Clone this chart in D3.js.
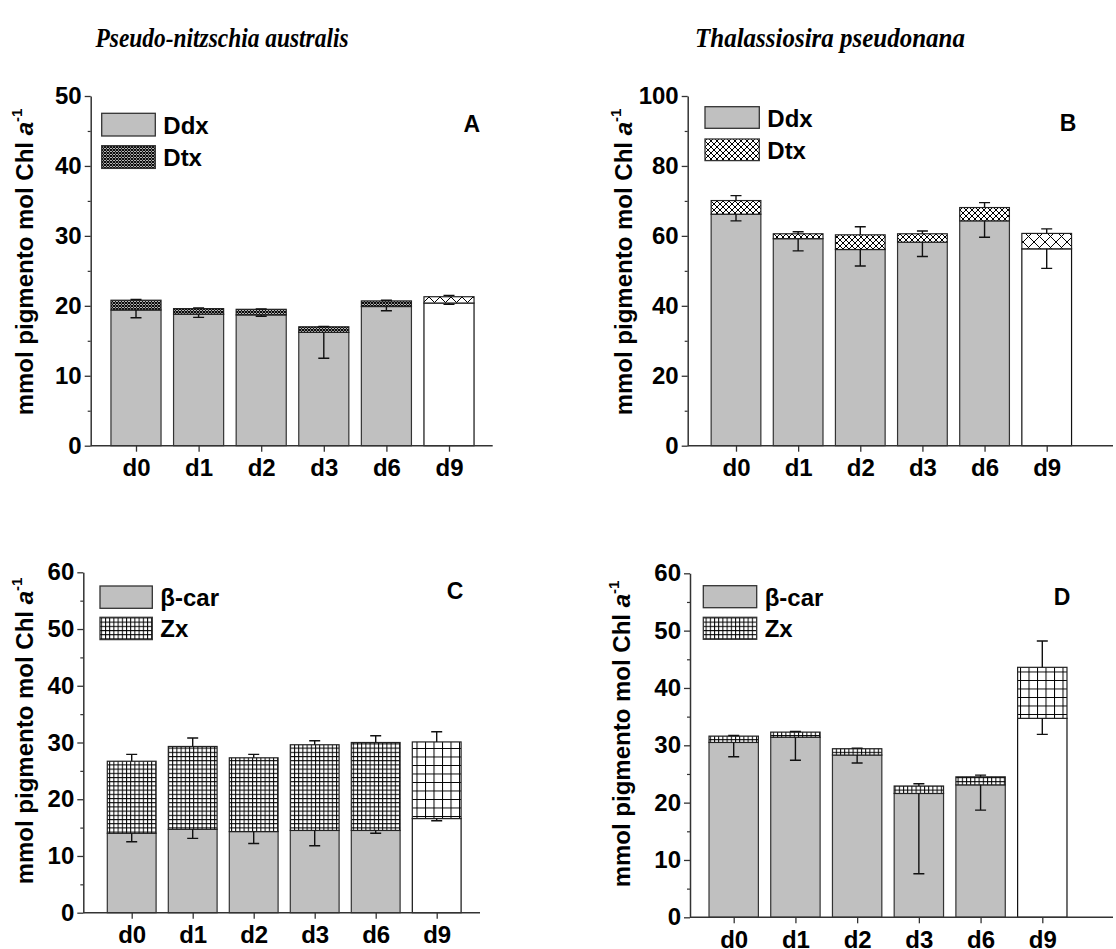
<!DOCTYPE html>
<html>
<head>
<meta charset="utf-8">
<script src="https://cdn.jsdelivr.net/npm/d3@7"></script>
<style>
  body { margin: 0; background: #fff; }
  svg { display: block; }
  .tick text { font-family: "Liberation Sans", Arial, sans-serif; font-weight: bold; font-size: 24px; fill: #000; }
</style>
</head>
<body>
<svg id="chart" width="1116" height="949"></svg>
<script>
const days = ["d0", "d1", "d2", "d3", "d6", "d9"];

// Pseudo-nitzschia australis
const ddxA = [19.4, 18.8, 18.7, 16.2, 19.9, 20.4];
const dtxA = [1.4, 0.8, 0.8, 0.8, 0.8, 0.9];
const errLowA = [1.1, 0.45, 0.2, 3.7, 0.6, 0.2];
const errHighA = [0.1, 0.1, 0.05, 0.05, 0.1, 0.2];

// Thalassiosira pseudonana
const ddxB = [66.2, 59.2, 56.1, 58.2, 64.3, 56.3];
const dtxB = [3.9, 1.4, 4.2, 2.4, 3.8, 4.4];
const errLowB = [1.9, 3.5, 4.7, 4.1, 4.7, 5.6];
const errHighB = [1.4, 0.6, 2.3, 0.8, 1.4, 1.3];

const bcarC = [14.0, 14.7, 14.3, 14.5, 14.5, 16.6];
const zxC = [12.7, 14.6, 13.0, 15.1, 15.5, 13.5];
const errLowC = [1.5, 1.6, 2.1, 2.7, 0.5, 0.4];
const errHighC = [1.2, 1.5, 0.6, 0.7, 1.2, 1.8];

const bcarD = [30.5, 31.4, 28.3, 21.6, 23.1, 34.7];
const zxD = [1.1, 0.9, 1.1, 1.3, 1.4, 8.9];
const errLowD = [2.5, 4.0, 1.4, 14.0, 4.4, 2.8];
const errHighD = [0.1, 0.1, 0.1, 0.4, 0.3, 4.6];

const yMaxes = [50, 100, 60, 60];
const yStepMajor = [10, 20, 10, 10];
const panelLetters = ["A", "B", "C", "D"];
const legendLabels = [["Ddx", "Dtx"], ["Ddx", "Dtx"], ["\u03b2-car", "Zx"], ["\u03b2-car", "Zx"]];
const titles = ["Pseudo-nitzschia australis", "Thalassiosira pseudonana"];

const svg = d3.select("#chart");
const defs = svg.append("defs");
const sans = '"Liberation Sans", Arial, sans-serif';

// hatch patterns
function crossHatch(id, size, sw) {
  const p = defs.append("pattern").attr("id", id)
    .attr("patternUnits", "userSpaceOnUse")
    .attr("width", size).attr("height", size);
  p.append("rect").attr("width", size).attr("height", size).attr("fill", "#fff");
  p.append("path")
    .attr("d", `M0,0L${size},${size}M${size},0L0,${size}`)
    .attr("stroke", "#000").attr("stroke-width", sw);
}
function grid(id, size, sw) {
  const p = defs.append("pattern").attr("id", id)
    .attr("patternUnits", "userSpaceOnUse")
    .attr("width", size).attr("height", size);
  p.append("rect").attr("width", size).attr("height", size).attr("fill", "#fff");
  p.append("path")
    .attr("d", `M0,0.5H${size}M0.5,0V${size}`)
    .attr("stroke", "#000").attr("stroke-width", sw);
}
crossHatch("xfine", 3, 1.1);
crossHatch("xmed", 6, 1);
crossHatch("xcoarse", 11, 1);
grid("gfine", 4.2, 1);
grid("gcoarse", 8.5, 1);

// layout of each panel
const layout = [
  { left: 90.7, right: 492.7, top: 96, bottom: 445.7, c0: 136, c5: 449,
    topFill: "url(#xfine)", lastFill: "url(#xcoarse)", titleX: 33, titleY: 262,
    leg: { x: 101.7, y: 113.3, w: 53.6, h: 22.7, gap: 32.4 }, letter: [471.7, 132] },
  { left: 687.7, right: 1113, top: 96, bottom: 445.7, c0: 736, c5: 1046.7,
    topFill: "url(#xmed)", lastFill: "url(#xcoarse)", titleX: 631.7, titleY: 262,
    leg: { x: 705, y: 106.7, w: 54.3, h: 21.6, gap: 32.3 }, letter: [1068, 131] },
  { left: 83.3, right: 480, top: 572.3, bottom: 912.7, c0: 131.7, c5: 436.7,
    topFill: "url(#gfine)", lastFill: "url(#gcoarse)", titleX: 33, titleY: 731,
    leg: { x: 100, y: 586, w: 52.3, h: 22.3, gap: 31.3 }, letter: [455, 599] },
  { left: 690, right: 1113, top: 573.3, bottom: 917.3, c0: 733.7, c5: 1042.3,
    topFill: "url(#gfine)", lastFill: "url(#gcoarse)", titleX: 630, titleY: 734,
    leg: { x: 703.3, y: 585.7, w: 53.4, h: 22, gap: 31.6 }, letter: [1062, 605] }
];

const series = [
  [ddxA, dtxA, errLowA, errHighA],
  [ddxB, dtxB, errLowB, errHighB],
  [bcarC, zxC, errLowC, errHighC],
  [bcarD, zxD, errLowD, errHighD]
];

series.forEach(([base, top, eLow, eHigh], i) => {
  const L = layout[i];
  const g = svg.append("g");

  const x = d3.scalePoint().domain(days).range([L.c0, L.c5]);
  const y = d3.scaleLinear().domain([0, yMaxes[i]]).range([L.bottom, L.top]);
  const bw = x.step() * 0.8;

  const rows = days.map((d, k) => ({
    day: d, base: base[k], top: top[k], low: eLow[k], high: eHigh[k], last: k === days.length - 1
  }));

  // bottom segment
  g.selectAll("rect.base").data(rows).enter().append("rect")
    .attr("class", "base")
    .attr("x", d => x(d.day) - bw / 2)
    .attr("width", bw)
    .attr("y", d => y(d.base))
    .attr("height", d => y(0) - y(d.base))
    .attr("fill", d => d.last ? "#fff" : "#c0c0c0")
    .attr("stroke", d => d.last ? "#111" : "#333")
    .attr("stroke-width", 1.2);

  // stacked segment
  g.selectAll("rect.top").data(rows).enter().append("rect")
    .attr("class", "top")
    .attr("x", d => x(d.day) - bw / 2)
    .attr("width", bw)
    .attr("y", d => y(d.base + d.top))
    .attr("height", d => y(d.base) - y(d.base + d.top))
    .attr("fill", d => d.last ? L.lastFill : L.topFill)
    .attr("stroke", "#222")
    .attr("stroke-width", 1.2);

  // error bars: bottom series downward, stacked series upward
  const eb = g.selectAll("g.err").data(rows).enter().append("g").attr("class", "err")
    .attr("stroke", "#111").attr("stroke-width", 1.4);
  eb.append("path")
    .attr("d", d => {
      const cx = x(d.day), y0 = y(d.base), y1 = y(d.base - d.low);
      return `M${cx},${y0}V${y1}M${cx - 5.5},${y1}H${cx + 5.5}`;
    });
  eb.append("path")
    .attr("d", d => {
      const cx = x(d.day), y0 = y(d.base + d.top), y1 = y(d.base + d.top + d.high);
      return `M${cx},${y0}V${y1}M${cx - 5.5},${y1}H${cx + 5.5}`;
    });

  // axes
  const major = d3.range(0, yMaxes[i] + 0.001, yStepMajor[i]);
  const minor = d3.range(yStepMajor[i] / 2, yMaxes[i], yStepMajor[i]);

  const yAx = g.append("g").attr("transform", `translate(${L.left},0)`)
    .call(d3.axisLeft(y).tickValues(major).tickSize(6).tickSizeOuter(0).tickPadding(3));
  yAx.select(".domain").attr("stroke", "#333").attr("stroke-width", 1.5);
  yAx.selectAll(".tick line").attr("stroke", "#333").attr("stroke-width", 1.3);

  g.append("g").attr("transform", `translate(${L.left},0)`)
    .call(d3.axisLeft(y).tickValues(minor).tickSize(3).tickFormat(""))
    .call(s => s.select(".domain").remove())
    .selectAll(".tick line").attr("stroke", "#333").attr("stroke-width", 1.2);

  const xAx = g.append("g").attr("transform", `translate(0,${L.bottom})`)
    .call(d3.axisBottom(x).tickSize(6).tickPadding(4));
  xAx.select(".domain").remove();
  xAx.selectAll(".tick line").attr("stroke", "#333").attr("stroke-width", 1.3);
  xAx.selectAll(".tick text").attr("dy", "0.86em");
  g.append("line")
    .attr("x1", L.left).attr("x2", L.right)
    .attr("y1", L.bottom).attr("y2", L.bottom)
    .attr("stroke", "#333").attr("stroke-width", 1.5);

  // y title
  const t = g.append("text")
    .attr("transform", `translate(${L.titleX},${L.titleY}) rotate(-90)`)
    .attr("text-anchor", "middle")
    .attr("font-family", sans).attr("font-weight", "bold").attr("font-size", 24);
  t.append("tspan").text("mmol pigmento mol Chl ");
  t.append("tspan").attr("font-style", "italic").text("a");
  t.append("tspan").attr("font-size", 15).attr("dy", -11).text("-1");

  // legend
  const lg = legendLabels[i];
  ["#c0c0c0", L.topFill].forEach((fill, k) => {
    g.append("rect")
      .attr("x", L.leg.x).attr("y", L.leg.y + k * L.leg.gap)
      .attr("width", L.leg.w).attr("height", L.leg.h)
      .attr("fill", fill).attr("stroke", "#333").attr("stroke-width", 1.3);
    g.append("text")
      .attr("x", L.leg.x + L.leg.w + 8)
      .attr("y", L.leg.y + k * L.leg.gap + L.leg.h / 2 + 9)
      .attr("font-family", sans).attr("font-weight", "bold").attr("font-size", 24)
      .text(lg[k]);
  });

  g.append("text")
    .attr("x", L.letter[0]).attr("y", L.letter[1])
    .attr("text-anchor", "middle")
    .attr("font-family", sans).attr("font-weight", "bold").attr("font-size", 23)
    .text(panelLetters[i]);
});

// species titles
svg.selectAll("text.species").data(titles).enter().append("text")
  .attr("class", "species")
  .attr("x", (d, i) => i === 0 ? 222 : 830)
  .attr("y", 47)
  .attr("text-anchor", "middle")
  .attr("font-family", '"Liberation Serif", "Times New Roman", serif')
  .attr("font-style", "italic").attr("font-weight", "bold").attr("font-size", 27)
  .attr("textLength", (d, i) => i === 0 ? 253 : 270)
  .attr("lengthAdjust", "spacingAndGlyphs")
  .text(d => d);
</script>
</body>
</html>
